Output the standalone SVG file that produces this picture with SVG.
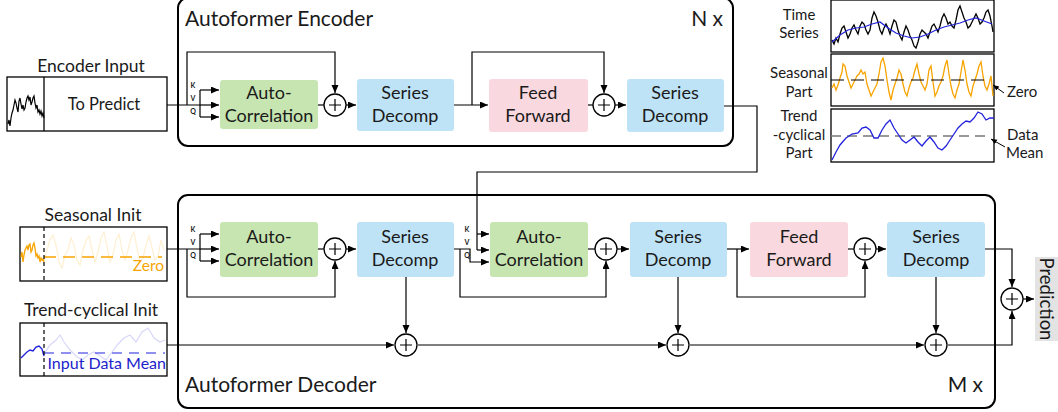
<svg xmlns="http://www.w3.org/2000/svg" width="1058" height="412" viewBox="0 0 1058 412">
<defs>
<marker id="ah" markerUnits="userSpaceOnUse" markerWidth="9" markerHeight="8" refX="8" refY="3.5" orient="auto">
<path d="M0,0 L8,3.5 L0,7 z" fill="#000"/>
</marker>
<marker id="ahs" markerUnits="userSpaceOnUse" markerWidth="7" markerHeight="6" refX="6" refY="2.5" orient="auto">
<path d="M0,0 L6,2.5 L0,5 z" fill="#000"/>
</marker>
<style>
text{font-family:Lato,"Open Sans","Liberation Sans",sans-serif;fill:#1a1a1a}
.title{font-size:21px}
.lbl{font-size:18px;text-anchor:middle}
.kvq{font-size:7px;font-weight:bold;text-anchor:middle}
.small{font-size:15px;text-anchor:middle}
.head{font-size:17.5px;text-anchor:middle}
.blk{fill:none;stroke:#000;stroke-width:2}
.ac{fill:#c6e5b0}
.sd{fill:#bfe3f6}
.ff{fill:#f9d8df}
.pl{fill:#fff;stroke:#000;stroke-width:1.3}
.pc{stroke:#000;stroke-width:1.2}
.c{fill:none;stroke:#000;stroke-width:1.2}
.ca{fill:none;stroke:#000;stroke-width:1.2;marker-end:url(#ah)}
.frame{fill:#fff;stroke:#000;stroke-width:1.3}
</style>
</defs>

<!-- Encoder block -->
<g id="encoder">
<rect class="blk" x="178" y="-2" width="555" height="148" rx="10"/>
<text class="title" x="185" y="26">Autoformer Encoder</text>
<text class="title" x="723" y="26" text-anchor="end">N x</text>
</g>

<!-- Decoder block -->
<g id="decoder">
<rect class="blk" x="178" y="195" width="817" height="213" rx="10"/>
<text class="title" x="185" y="392">Autoformer Decoder</text>
<text class="title" x="983" y="392" text-anchor="end">M x</text>
</g>

<!-- Encoder input -->
<g id="encoder-input">
<text class="head" x="91" y="72">Encoder Input</text>
<rect class="frame" x="7" y="77" width="160" height="54"/>
<line x1="44" y1="77" x2="44" y2="131" stroke="#000" stroke-width="1.3"/>
<polyline fill="none" stroke="#000" stroke-width="1.2" points="8,124 9,120 10,126 11,118 12,113 13,110 14,105 15,100 16,103 17,108 18,112 19,101 20,98 21,104 22,109 23,105 24,110 25,108 26,102 27,98 28,96 29,100 30,97 31,105 32,102 33,98 34,96 35,103 36,108 37,105 38,112 39,110 40,114 41,111 42,116 43,113 44,118"/>
<text class="lbl" x="104" y="110" style="font-size:16.5px">To Predict</text>
</g>

<!-- Encoder nodes -->
<g id="enc-autocorr">
<rect class="ac" x="220" y="80" width="98" height="49" rx="3"/>
<text class="lbl" x="269" y="99">Auto-</text>
<text class="lbl" x="269" y="122">Correlation</text>
</g>
<g id="enc-plus1"><circle class="pl" cx="335" cy="105" r="11"/><path class="pc" d="M329,105 H341 M335,99 V111"/></g>
<g id="enc-decomp1">
<rect class="sd" x="357" y="79" width="97" height="52" rx="3"/>
<text class="lbl" x="405" y="99">Series</text>
<text class="lbl" x="405" y="122">Decomp</text>
</g>
<g id="enc-ff">
<rect class="ff" x="489" y="79" width="99" height="53" rx="3"/>
<text class="lbl" x="538" y="99">Feed</text>
<text class="lbl" x="538" y="122">Forward</text>
</g>
<g id="enc-plus2"><circle class="pl" cx="604" cy="105" r="11"/><path class="pc" d="M598,105 H610 M604,99 V111"/></g>
<g id="enc-decomp2">
<rect class="sd" x="627" y="79" width="97" height="53" rx="3"/>
<text class="lbl" x="675" y="99">Series</text>
<text class="lbl" x="675" y="122">Decomp</text>
</g>

<!-- Decoder inputs -->
<g id="seasonal-init">
<text class="head" x="93" y="221">Seasonal Init</text>
<rect class="frame" x="20" y="227" width="147" height="54"/>
<polyline fill="none" stroke="#f7a400" stroke-opacity="0.18" stroke-width="1.2" points="44,262 47,250 50,240 53,235 56,245 59,262 62,268 65,255 68,250 71,238 74,245 77,260 80,265 83,250 86,240 89,236 92,250 95,262 98,252 101,238 104,232 107,246 110,262 113,255 116,240 119,234 122,250 125,260 128,250 131,238 134,232 137,248 140,262 143,258 146,245 149,236 152,248 155,260 158,256 161,240 164,250"/>
<line x1="44" y1="257" x2="162" y2="257" stroke="#f7a400" stroke-width="1.3" stroke-dasharray="12,7"/>
<polyline fill="none" stroke="#f7a400" stroke-width="1.3" points="21,257 22,252 23,262 24,255 25,250 26,248 27,246 28,250 29,245 30,244 31,252 32,250 33,245 34,243 35,248 36,256 37,254 38,258 39,256 40,262 41,258 42,260 43,259 44,262"/>
<line x1="44" y1="227" x2="44" y2="281" stroke="#000" stroke-width="1.2" stroke-dasharray="4,3"/>
<text x="164" y="271" text-anchor="end" style="font-size:15.5px;fill:#f7a400">Zero</text>
</g>
<g id="trend-init">
<text class="head" x="91" y="316">Trend-cyclical Init</text>
<rect class="frame" x="20" y="323" width="147" height="53"/>
<polyline fill="none" stroke="#2222dd" stroke-opacity="0.18" stroke-width="1.2" points="44,354 50,345 56,340 60,335 64,342 70,350 76,356 82,360 88,355 94,352 100,356 106,360 112,352 118,344 124,338 130,335 136,342 142,332 148,328 154,338 160,342 165,340"/>
<line x1="44" y1="353" x2="165" y2="353" stroke="#2222dd" stroke-width="1.2" stroke-dasharray="10,7"/>
<polyline fill="none" stroke="#2222dd" stroke-width="1.4" points="21,358 24,355 27,352 30,350 33,351 36,347 39,346 42,349 44,356"/>
<line x1="44" y1="323" x2="44" y2="376" stroke="#000" stroke-width="1.2" stroke-dasharray="4,3"/>
<text x="166" y="369" text-anchor="end" style="font-size:16px;fill:#2222cc">Input Data Mean</text>
</g>

<!-- Decoder nodes -->
<g id="dec-autocorr1">
<rect class="ac" x="220" y="222" width="98" height="55" rx="3"/>
<text class="lbl" x="269" y="243">Auto-</text>
<text class="lbl" x="269" y="266">Correlation</text>
</g>
<g id="dec-plus1"><circle class="pl" cx="335" cy="249" r="11"/><path class="pc" d="M329,249 H341 M335,243 V255"/></g>
<g id="dec-decomp1">
<rect class="sd" x="357" y="222" width="97" height="55" rx="3"/>
<text class="lbl" x="405" y="243">Series</text>
<text class="lbl" x="405" y="266">Decomp</text>
</g>
<g id="dec-autocorr2">
<rect class="ac" x="490" y="222" width="98" height="55" rx="3"/>
<text class="lbl" x="539" y="243">Auto-</text>
<text class="lbl" x="539" y="266">Correlation</text>
</g>
<g id="dec-plus2"><circle class="pl" cx="606" cy="249" r="11"/><path class="pc" d="M600,249 H612 M606,243 V255"/></g>
<g id="dec-decomp2">
<rect class="sd" x="630" y="222" width="97" height="55" rx="3"/>
<text class="lbl" x="678" y="243">Series</text>
<text class="lbl" x="678" y="266">Decomp</text>
</g>
<g id="dec-ff">
<rect class="ff" x="750" y="222" width="98" height="55" rx="3"/>
<text class="lbl" x="799" y="243">Feed</text>
<text class="lbl" x="799" y="266">Forward</text>
</g>
<g id="dec-plus3"><circle class="pl" cx="865" cy="249" r="11"/><path class="pc" d="M859,249 H871 M865,243 V255"/></g>
<g id="dec-decomp3">
<rect class="sd" x="887" y="222" width="98" height="55" rx="3"/>
<text class="lbl" x="936" y="243">Series</text>
<text class="lbl" x="936" y="266">Decomp</text>
</g>
<g id="trend-plus1"><circle class="pl" cx="406" cy="345" r="11"/><path class="pc" d="M400,345 H412 M406,339 V351"/></g>
<g id="trend-plus2"><circle class="pl" cx="678" cy="345" r="11"/><path class="pc" d="M672,345 H684 M678,339 V351"/></g>
<g id="trend-plus3"><circle class="pl" cx="936" cy="345" r="11"/><path class="pc" d="M930,345 H942 M936,339 V351"/></g>
<g id="pred-plus"><circle class="pl" cx="1012" cy="299" r="11"/><path class="pc" d="M1006,299 H1018 M1012,293 V305"/></g>
<g id="prediction">
<rect x="1035" y="257" width="23" height="84" fill="#e3e3e3"/>
<text x="0" y="0" transform="translate(1040,299) rotate(90)" text-anchor="middle" style="font-size:18.5px">Prediction</text>
</g>

<!-- Legend panels -->
<g id="legend">
<text class="small" x="799" y="20">Time</text>
<text class="small" x="799" y="38">Series</text>
<rect class="frame" x="831" y="0" width="163" height="52"/>
<polyline fill="none" stroke="#000" stroke-width="1.3" points="832,40 834,44 836,38 838,42 840,34 842,28 844,26 846,32 848,38 850,34 852,28 854,25 856,30 858,34 860,26 862,22 864,24 866,30 868,34 870,30 872,18 874,12 876,16 878,22 880,30 882,34 884,28 886,24 888,28 890,34 892,26 894,20 896,22 898,30 900,36 902,40 904,32 906,26 908,30 910,36 912,40 914,46 916,48 918,42 920,34 922,30 924,32 926,34 928,38 930,32 932,26 934,24 936,28 938,32 940,26 942,18 944,14 946,18 948,24 950,22 952,26 954,28 956,20 958,10 960,6 962,12 964,18 966,22 968,28 970,26 972,22 974,18 976,14 978,18 980,24 982,22 984,18 986,12 988,10 990,16 992,26 993,32"/>
<polyline fill="none" stroke="#2222dd" stroke-width="1.2" points="832,42 840,35 848,30 856,28 864,27 872,24 880,22 888,28 896,33 904,36 912,38 920,37 928,34 936,30 944,27 952,25 960,23 968,20 976,18 984,21 992,24"/>

<text class="small" x="799" y="78">Seasonal</text>
<text class="small" x="799" y="97">Part</text>
<rect class="frame" x="831" y="54" width="163" height="52"/>
<polyline fill="none" stroke="#f7a400" stroke-width="1.3" points="832,88 834,84 836,90 838,85 840,78 842,72 843,64 845,66 847,76 849,82 851,88 853,84 855,80 857,76 859,74 861,70 863,74 865,72 867,84 869,90 871,96 873,92 875,88 877,84 879,74 881,62 883,58 885,66 887,80 889,92 891,100 893,90 895,84 897,78 899,70 901,74 903,84 905,92 907,96 909,88 911,82 913,78 915,70 917,64 919,74 921,82 923,86 925,90 927,84 929,70 931,66 933,82 935,96 937,92 939,86 941,82 943,76 945,66 947,60 949,74 951,86 953,94 955,98 957,90 959,84 961,72 963,60 965,70 967,84 969,92 971,96 973,86 975,80 977,74 979,66 981,62 983,76 985,86 987,90 989,84 991,76 993,96"/>
<line x1="831" y1="80" x2="990" y2="80" stroke="#000" stroke-width="1.2" stroke-dasharray="13,7"/>
<line x1="1004" y1="93" x2="993" y2="85" stroke="#000" stroke-width="1" marker-end="url(#ahs)"/>
<text x="1007" y="97" style="font-size:15px">Zero</text>

<text class="small" x="799" y="121">Trend</text>
<text class="small" x="799" y="140">-cyclical</text>
<text class="small" x="799" y="158">Part</text>
<rect class="frame" x="831" y="109" width="163" height="53"/>
<line x1="831" y1="136" x2="990" y2="136" stroke="#777" stroke-width="1.5" stroke-dasharray="10,6"/>
<polyline fill="none" stroke="#2222dd" stroke-width="1.3" points="832,160 836,152 840,145 846,138 852,134 858,133 862,128 866,127 870,130 874,138 878,138 882,130 886,124 890,120 894,128 898,134 902,140 906,143 910,140 914,137 918,142 922,146 926,141 930,137 934,142 938,148 942,150 946,146 950,140 954,134 958,128 962,124 966,121 970,122 974,118 978,112 982,114 986,120 990,118 994,118"/>
<line x1="1005" y1="147" x2="991" y2="139" stroke="#000" stroke-width="1" marker-end="url(#ahs)"/>
<text x="1007" y="140" style="font-size:15px">Data</text>
<text x="1006" y="158" style="font-size:15px">Mean</text>
</g>

<!-- K V Q labels -->
<g id="kvq-labels">
<text class="kvq" x="193" y="88">K</text><text class="kvq" x="193" y="101">V</text><text class="kvq" x="193" y="114">Q</text>
<text class="kvq" x="193" y="232">K</text><text class="kvq" x="193" y="245">V</text><text class="kvq" x="193" y="258">Q</text>
<text class="kvq" x="467" y="232">K</text><text class="kvq" x="467" y="245">V</text><text class="kvq" x="467" y="258">Q</text>
</g>

<!-- Connectors -->
<g id="connectors">
<!-- encoder -->
<path class="c" d="M167,105 H200 M200,90 V117"/>
<path class="ca" d="M200,90 H219"/>
<path class="ca" d="M200,105 H219"/>
<path class="ca" d="M200,117 H219"/>
<path class="ca" d="M187,105 V52 H335 V93"/>
<path class="c" d="M318,105 H324"/>
<path class="ca" d="M346,105 H356"/>
<path class="ca" d="M454,105 H488"/>
<path class="ca" d="M472,105 V52 H604 V93"/>
<path class="c" d="M588,105 H593"/>
<path class="ca" d="M615,105 H626"/>
<path class="c" d="M724,106 H757 V172 H477 V250"/>
<path class="ca" d="M477,234 H489"/>
<path class="ca" d="M477,250 H489"/>
<!-- decoder -->
<path class="c" d="M167,249 H200 M200,234 V261"/>
<path class="ca" d="M200,234 H219"/>
<path class="ca" d="M200,249 H219"/>
<path class="ca" d="M200,261 H219"/>
<path class="ca" d="M187,249 V297 H335 V261"/>
<path class="c" d="M318,249 H324"/>
<path class="ca" d="M346,249 H356"/>
<path class="ca" d="M454,249 H470 V262 H489"/>
<path class="ca" d="M460,249 V297 H606 V261"/>
<path class="c" d="M588,249 H595"/>
<path class="ca" d="M617,249 H629"/>
<path class="ca" d="M727,249 H749"/>
<path class="ca" d="M737,249 V297 H865 V261"/>
<path class="c" d="M848,249 H854"/>
<path class="ca" d="M876,249 H886"/>
<path class="ca" d="M985,249 H1012 V287"/>
<path class="ca" d="M1023,299 H1034"/>
<path class="ca" d="M406,277 V333"/>
<path class="ca" d="M678,277 V333"/>
<path class="ca" d="M936,277 V333"/>
<path class="ca" d="M167,345 H394"/>
<path class="ca" d="M418,345 H666"/>
<path class="ca" d="M690,345 H924"/>
<path class="ca" d="M948,345 H1012 V311"/>
</g>
</svg>
